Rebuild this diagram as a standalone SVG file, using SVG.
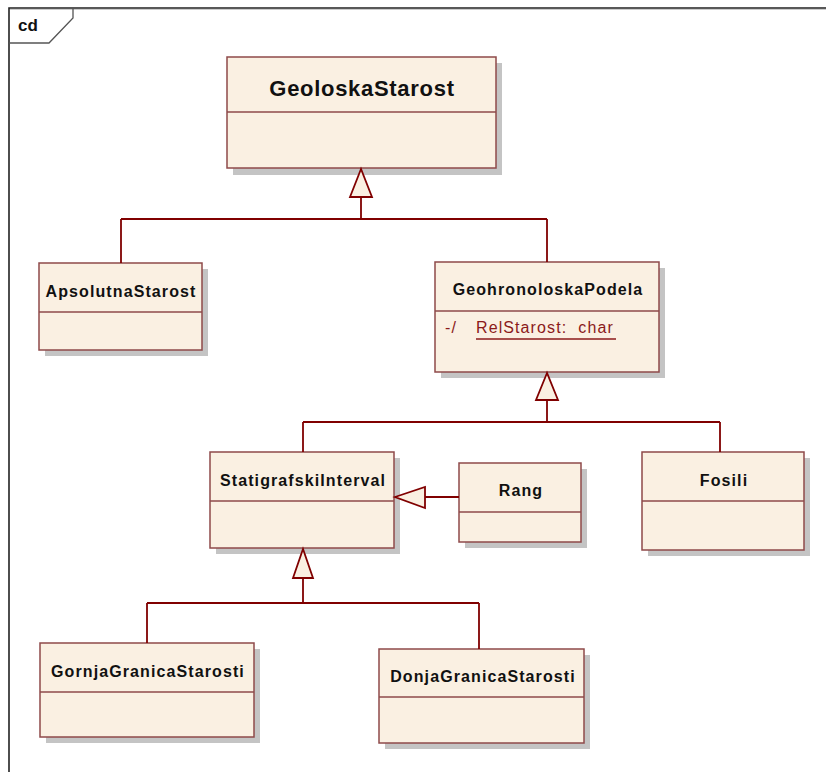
<svg xmlns="http://www.w3.org/2000/svg" width="826" height="772" viewBox="0 0 826 772">
<style>
.shadow{fill:#c4c4c4;stroke:none}
.box{fill:#faf0e2;stroke:#8e4a4a;stroke-width:1.5}
.div{stroke:#8e4a4a;stroke-width:1.5}
.title{font-family:"Liberation Sans",Arial,sans-serif;font-weight:bold;font-size:16px;fill:#111;text-anchor:middle;letter-spacing:1.1px}
.big{font-size:22px;letter-spacing:0.7px}
.attr{font-family:"Liberation Sans",Arial,sans-serif;font-size:16px;fill:#8b1a1a;letter-spacing:1.1px}
.conn{fill:none;stroke:#800000;stroke-width:1.8}
.tri{fill:#faf0e2;stroke:#800000;stroke-width:1.8;stroke-linejoin:miter}
</style>
<rect x="0" y="0" width="826" height="772" fill="#ffffff"/>
<g id="frame">
<path d="M9,772 L9,8 L826,8" fill="none" stroke="#222" stroke-width="1.6"/>
<path d="M10,9.5 L826,9.5" fill="none" stroke="#ccc" stroke-width="1"/>
<path d="M73,8 L73,18 L49,43 L9,43" fill="none" stroke="#555" stroke-width="1.3"/>
<text x="18" y="31" font-family="Liberation Sans,Arial,sans-serif" font-weight="bold" font-size="17" fill="#111">cd</text>
</g>
<g id="GeoloskaStarost">
<rect class="shadow" x="233" y="63" width="269" height="112"/>
<rect class="box" x="227" y="57" width="269" height="111"/>
<line class="div" x1="227" y1="112" x2="496" y2="112"/>
<text class="title big" x="362" y="96">GeoloskaStarost</text>
</g>
<g id="ApsolutnaStarost">
<rect class="shadow" x="45" y="269" width="163" height="87"/>
<rect class="box" x="39" y="263" width="163" height="87"/>
<line class="div" x1="39" y1="312" x2="202" y2="312"/>
<text class="title" x="121" y="297">ApsolutnaStarost</text>
</g>
<g id="GeohronoloskaPodela">
<rect class="shadow" x="441" y="268" width="224" height="110"/>
<rect class="box" x="435" y="262" width="224" height="110"/>
<line class="div" x1="435" y1="311" x2="659" y2="311"/>
<text class="title" x="548" y="295">GeohronoloskaPodela</text>
<text class="attr" x="445" y="333">-/</text>
<text class="attr" x="476" y="333" xml:space="preserve">RelStarost:  char</text>
<line x1="476" y1="339" x2="616" y2="339" stroke="#8b1a1a" stroke-width="1.5"/>
</g>
<g id="StatigrafskiInterval">
<rect class="shadow" x="216" y="458" width="184" height="96"/>
<rect class="box" x="210" y="452" width="184" height="96"/>
<line class="div" x1="210" y1="501" x2="394" y2="501"/>
<text class="title" x="303" y="486">StatigrafskiInterval</text>
</g>
<g id="Rang">
<rect class="shadow" x="465" y="469" width="122" height="79"/>
<rect class="box" x="459" y="463" width="122" height="79"/>
<line class="div" x1="459" y1="512" x2="581" y2="512"/>
<text class="title" x="521" y="496">Rang</text>
</g>
<g id="Fosili">
<rect class="shadow" x="648" y="458" width="162" height="98"/>
<rect class="box" x="642" y="452" width="162" height="98"/>
<line class="div" x1="642" y1="501" x2="804" y2="501"/>
<text class="title" x="724" y="486">Fosili</text>
</g>
<g id="GornjaGranicaStarosti">
<rect class="shadow" x="46" y="649" width="214" height="94"/>
<rect class="box" x="40" y="643" width="214" height="94"/>
<line class="div" x1="40" y1="692" x2="254" y2="692"/>
<text class="title" x="148" y="677">GornjaGranicaStarosti</text>
</g>
<g id="DonjaGranicaStarosti">
<rect class="shadow" x="385" y="655" width="205" height="94"/>
<rect class="box" x="379" y="649" width="205" height="94"/>
<line class="div" x1="379" y1="697" x2="584" y2="697"/>
<text class="title" x="483" y="682">DonjaGranicaStarosti</text>
</g>
<g id="connectors">
<path class="conn" d="M361,197 L361,219 M121,219 L547,219 M121,219 L121,263 M547,219 L547,262"/>
<polygon class="tri" points="361,169 350,197 372,197"/>
<path class="conn" d="M547,400 L547,422 M303,422 L720,422 M303,422 L303,452 M720,422 L720,452"/>
<polygon class="tri" points="547,373 536,400 558,400"/>
<path class="conn" d="M425,497 L459,497"/>
<polygon class="tri" points="395,497 425,487 425,508"/>
<path class="conn" d="M303,578 L303,603 M147,603 L479,603 M147,603 L147,643 M479,603 L479,649"/>
<polygon class="tri" points="303,549 293,578 313,578"/>
</g>
</svg>
